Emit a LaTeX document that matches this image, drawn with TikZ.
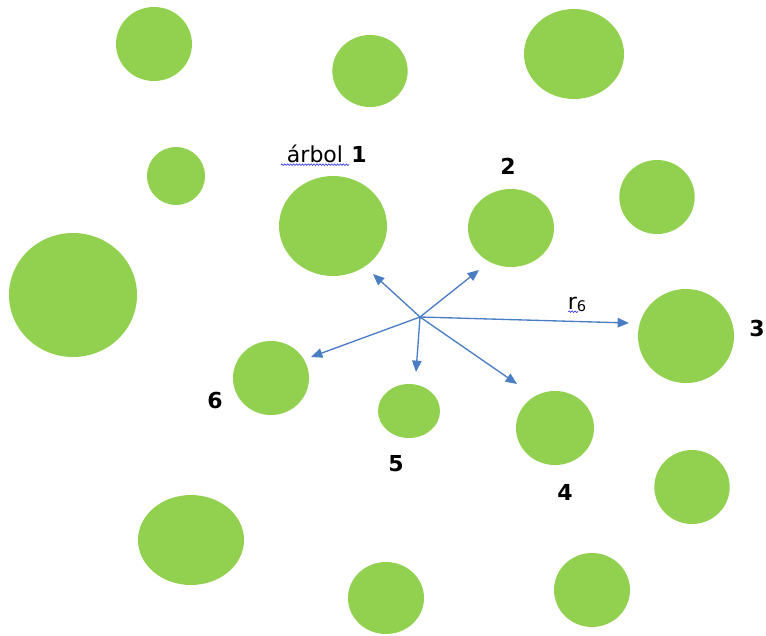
\documentclass[tikz,border=0pt]{standalone}
\usepackage{fontspec}
\setmainfont{DejaVu Sans}
\usetikzlibrary{arrows.meta,shapes.geometric,decorations.pathmorphing}
\definecolor{treegreen}{HTML}{92D050}
\definecolor{rayblue}{HTML}{4A7EC4}
\definecolor{spellblue}{HTML}{3B3BEF}

\begin{document}
\begin{tikzpicture}[
  x=0.75pt,y=-0.75pt,
  tree/.style={ellipse, fill=treegreen, inner sep=0pt},
  num/.style={font=\fontsize{16.5}{18}\selectfont\bfseries},
  lbl/.style={font=\fontsize{16.5}{18}\selectfont},
  ray/.style={-{Triangle[length=3mm,width=2.5mm]}, rayblue, line width=1pt},
  squiggle/.style={spellblue, line width=0.5pt, decorate, decoration={snake, amplitude=0.6pt, segment length=2.2pt}}
]
\useasboundingbox (0,0) rectangle (766,635);
% trees
\node[tree, minimum width=57pt, minimum height=55.5pt] (t1) at (154,44) {};
\node[tree, minimum width=56.5pt, minimum height=54pt] (t2) at (370,71) {};
\node[tree, minimum width=75pt, minimum height=67.5pt] (t3) at (574,54) {};
\node[tree, minimum width=43.5pt, minimum height=43.5pt] (t4) at (176,176) {};
\node[tree, minimum width=81pt, minimum height=75pt] (tA) at (333,226) {};
\node[tree, minimum width=64.5pt, minimum height=58.5pt] (tB) at (511,228) {};
\node[tree, minimum width=56.5pt, minimum height=55.5pt] (t5) at (657,197) {};
\node[tree, minimum width=96pt, minimum height=93pt] (t6) at (73,295) {};
\node[tree, minimum width=72pt, minimum height=70.5pt] (tC) at (686,336) {};
\node[tree, minimum width=57pt, minimum height=55.5pt] (tF) at (271,378) {};
\node[tree, minimum width=46.5pt, minimum height=40.5pt] (tE) at (409,411) {};
\node[tree, minimum width=58.5pt, minimum height=55.5pt] (tD) at (555,428) {};
\node[tree, minimum width=56.5pt, minimum height=55.5pt] (t7) at (692,487) {};
\node[tree, minimum width=79.5pt, minimum height=67.5pt] (t8) at (191,540) {};
\node[tree, minimum width=57pt, minimum height=54pt] (t9) at (386,598) {};
\node[tree, minimum width=57pt, minimum height=55.5pt] (t10) at (592,590) {};
% labels
\node[lbl, anchor=base] (arbol) at (315,162) {árbol};
\node[num, anchor=base] (n1) at (359,162) {1};
\node[num, anchor=base] (n2) at (508,174) {2};
\node[num, anchor=base] (n3) at (757,336) {3};
\node[num, anchor=base] (n4) at (565,500) {4};
\node[num, anchor=base] (n5) at (396,471) {5};
\node[num, anchor=base] (n6) at (215,408) {6};
\node[lbl, anchor=base] (rsix) at (577,309) {r\raisebox{-1.5pt}{\fontsize{11}{12}\selectfont 6}};
\draw[squiggle] ([xshift=-1pt,yshift=-2pt]arbol.base west) -- ([xshift=1pt,yshift=-2pt]arbol.base east);
\draw[squiggle] ([xshift=-6.5pt,yshift=-2pt]rsix.base) -- ([xshift=1pt,yshift=-2pt]rsix.base);
% rays from the centre
\coordinate (c) at (420,317);
\coordinate (e1) at (373,274);
\coordinate (e2) at (479,270);
\coordinate (e3) at (629,323);
\coordinate (e4) at (517,384);
\coordinate (e5) at (416,372);
\coordinate (e6) at (311,357);
\draw[ray] (c) -- (e1);
\draw[ray] (c) -- (e2);
\draw[ray] (c) -- (e3);
\draw[ray] (c) -- (e4);
\draw[ray] (c) -- (e5);
\draw[ray] (c) -- (e6);
\end{tikzpicture}
\end{document}
